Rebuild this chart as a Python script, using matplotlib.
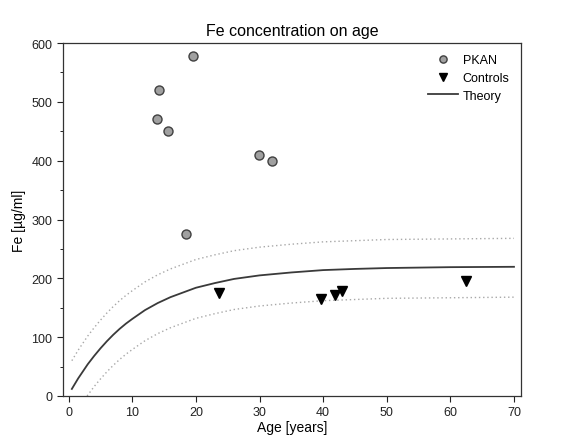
import numpy as np
import matplotlib
matplotlib.use("Agg")
import matplotlib.pyplot as plt
from matplotlib.ticker import MultipleLocator

plt.rcParams['font.family'] = ['Liberation Sans', 'DejaVu Sans']

# measured points
pkan_age = [19.5, 14.2, 13.9, 15.6, 29.9, 32.0, 18.5]
pkan_fe = [578, 520, 471, 450, 410, 400, 276]
ctrl_age = [23.6, 39.6, 41.8, 43.0, 62.4]
ctrl_fe = [175, 165, 172, 179, 195]

# theory curve and bounds
theory_age = [0.5, 1, 1.5, 2, 2.5, 3, 4, 5, 6, 7, 8, 9, 10, 12, 14, 16, 18,
              20, 23, 26, 30, 35, 40, 45, 50, 60, 70]
theory_fe = [12, 21, 30, 38, 46, 54, 68, 81, 93, 104, 114, 123, 131, 146,
             158, 168, 176, 184, 192, 199, 205, 210, 214, 216, 217.5, 219,
             219.6]
upper_fe = [60, 69, 78, 86, 94, 102, 116, 129, 141, 152, 162, 171, 179, 194,
            206, 216, 224, 232, 240, 247, 253, 258, 262, 264, 266, 267, 268]
lower_age = [2.9, 4, 5, 6, 7, 8, 9, 10, 12, 14, 16, 18, 20, 23, 26, 30, 35,
             40, 45, 50, 60, 70]
lower_fe = [0, 16, 29, 41, 52, 62, 71, 79, 94, 106, 116, 124, 132, 140, 147,
            153, 158, 162, 164, 166, 167, 168]

fig = plt.figure(figsize=(5.62, 4.39), dpi=100)
ax = fig.add_axes([0.112, 0.0957, 0.815, 0.804])

ax.plot(theory_age, upper_fe, color='#a8a8a8', lw=1.0, ls=(0, (1, 2)))
ax.plot(lower_age, lower_fe, color='#a8a8a8', lw=1.0, ls=(0, (1, 2)))
ax.plot(theory_age, theory_fe, color='#3a3a3a', lw=1.3, label='Theory')
ax.plot(pkan_age, pkan_fe, 'o', ms=6.5, mfc='#a0a0a0', mec='#404040',
        mew=1.0, label='PKAN', zorder=3)
ax.plot(ctrl_age, ctrl_fe, 'v', ms=6.5, color='black', label='Controls',
        zorder=3)

ax.set_xlim(-0.9, 71.1)
ax.set_ylim(0, 600)
ax.xaxis.set_major_locator(MultipleLocator(10))
ax.yaxis.set_major_locator(MultipleLocator(100))
ax.yaxis.set_minor_locator(MultipleLocator(50))
ax.tick_params(labelsize=9, colors='#222222', length=4, width=0.8)
ax.tick_params(which='minor', length=2.5, width=0.6)
for s in ax.spines.values():
    s.set_color('#333333')
    s.set_linewidth(0.9)

ax.set_xlabel('Age [years]', fontsize=10, labelpad=1)
ax.set_ylabel('Fe [\u00b5g/ml]', fontsize=10, labelpad=4)
ax.set_title('Fe concentration on age', fontsize=11.5, pad=6)

h, l = ax.get_legend_handles_labels()
order = [1, 2, 0]
leg = ax.legend([h[i] for i in order], [l[i] for i in order],
                loc='upper right', frameon=False, fontsize=9,
                handlelength=2.4, borderaxespad=0.5, labelspacing=0.45,
                handletextpad=0.4, markerscale=0.8)

fig.savefig('out.png', dpi=100)
